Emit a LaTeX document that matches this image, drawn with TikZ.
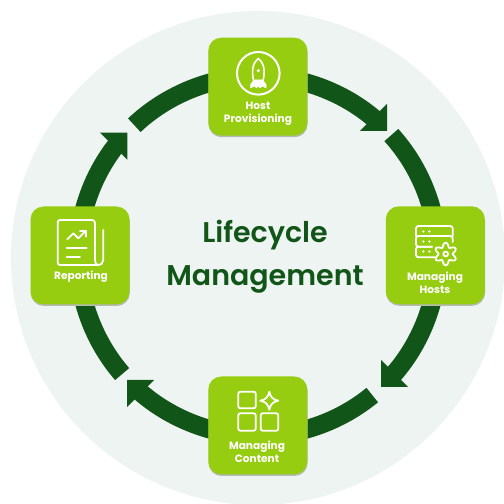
\documentclass[tikz,border=0pt]{standalone}
\usepackage{fontspec}
\usetikzlibrary{calc}
\setmainfont{Poppins}
\newfontface\titlefont{Poppins SemiBold}
\definecolor{bgc}{HTML}{EEF4F1}
\definecolor{ringc}{HTML}{115518}
\definecolor{boxc}{HTML}{96CD11}
\definecolor{shadowc}{HTML}{B4BAB6}
\tikzset{
  seg/.style={draw=ringc,line width=18.5pt,line cap=butt},
  headc/.style={fill=ringc},
  card/.style={draw=none,fill=boxc,rounded corners=13pt,minimum width=99pt,minimum height=98pt,inner sep=0pt},
  cardshadow/.style={draw=none,fill=shadowc,rounded corners=13pt,minimum width=99pt,minimum height=98pt,inner sep=0pt},
  lab/.style={text=white,font=\fontsize{10.6}{13}\selectfont\bfseries,align=center,inner sep=0pt},
  ico/.style={draw=white,line width=1.8pt,line join=round,line cap=round},
  title/.style={text=ringc,font=\fontsize{28.5}{43}\selectfont\titlefont,align=center,inner sep=0pt}
}
\begin{document}
\begin{tikzpicture}[x=1pt,y=1pt]
\useasboundingbox (0,0) rectangle (504,504);
\fill[bgc] (258,246) circle[radius=247];
\coordinate (o) at (258,248);
\foreach \n/\a in {s1/90,e1/49,s2/42.2,e2/0,s3/0,e3/-42,s4/-50.6,e4/-90,s5/-90,e5/-131.5,s6/-139,e6/-180,s7/180,e7/141.5,s8/133.4,e8/90}
  \coordinate (\n) at ($(o)+(\a:180)$);
\draw[seg] (s1) to[out=0,in=139,looseness=.87] (e1);
\draw[seg] (s2) to[out=-47.8,in=90,looseness=.87] (e2);
\draw[seg] (s3) to[out=-90,in=48,looseness=.87] (e3);
\draw[seg] (s4) to[out=-140.6,in=0,looseness=.87] (e4);
\draw[seg] (s5) to[out=180,in=-41.5,looseness=.87] (e5);
\draw[seg] (s6) to[out=131,in=-90,looseness=.87] (e6);
\draw[seg] (s7) to[out=90,in=-128.5,looseness=.87] (e7);
\draw[seg] (s8) to[out=43.4,in=180,looseness=.87] (e8);
\begin{scope}[shift={(0,504)},yscale=-1]
% arrow heads
\fill[headc] (387,131) -- (387,104) -- (360,131) -- cycle;
\fill[headc] (381,387) -- (381,360) -- (408,387) -- cycle;
\fill[headc] (127,380) -- (154,380) -- (127,407) -- cycle;
\fill[headc] (127.3,132.7) -- (100,132.7) -- (127.3,159.6) -- cycle;
% cards
\node[cardshadow] (host s) at (258.1,88.2) {};
\node[cardshadow] (hosts s) at (435.6,256.8) {};
\node[cardshadow] (content s) at (258.1,427) {};
\node[cardshadow] (report s) at (80.3,257) {};
\node[card] (host) at (257.8,86.7) {};
\node[card] (hosts) at (435.3,255.3) {};
\node[card] (content) at (257.8,425.5) {};
\node[card] (report) at (80,255.5) {};
% labels
\node[lab] (hostl) at (258,114.2) {Host\\Provisioning};
\node[lab] (hostsl) at (435,282.8) {Managing\\Hosts};
\node[lab] (contentl) at (257,452) {Managing\\Content};
\node[lab] (reportl) at (81,276.5) {Reporting};
\node[title] (ttl) at (265,256.3) {Lifecycle\\Management};
% rocket icon
\draw[ico,line width=2pt] (258.3,73.3) circle[radius=21.3];
\draw[ico,line width=1.6pt] (258.3,58.5) .. controls (254,62) and (252.6,67) .. (252.6,71) .. controls (252.6,75) and (253,79) .. (254,82)
  -- (262.7,82) .. controls (263.7,79) and (264.1,75) .. (264.1,71) .. controls (264.1,67) and (262.7,62) .. (258.3,58.5) -- cycle;
\fill[white,draw=white,line width=.5pt,line join=round] (254,80) -- (250.5,84.5) -- (250.5,88) -- (254.5,86) -- (256.5,88) -- (258.3,86) -- (260.2,88) -- (262.2,86) -- (266.2,88) -- (266.2,84.5) -- (262.7,80) -- cycle;
\fill[white] (258.3,70.7) circle[radius=1.7];
% server icon
\draw[ico,rounded corners=2.5pt] (435,257.3) -- (416,257.3) -- (416,246.7) -- (432,246.7);
\draw[ico,rounded corners=2.5pt] (432,246.7) -- (416,246.7) -- (416,236) -- (452.7,236) -- (452.7,242);
\draw[ico,rounded corners=2.5pt] (416,236) -- (416,226) -- (452.7,226) -- (452.7,236);
\foreach \y in {231.5,241.5,251.5}{
  \fill[white] (423.3,\y) circle[radius=1.2];
  \fill[white] (429.3,\y) circle[radius=1.2];
}
\draw[ico] plot[domain=0:360,samples=121,smooth] ({445.7+(9.2+2.1*cos(6*(\x-90)))*cos(\x)},{254+(9.2+2.1*cos(6*(\x-90)))*sin(\x)}) -- cycle;
\draw[ico] (445.7,254) circle[radius=2.4];
% content icon
\draw[ico,rounded corners=2pt] (238.3,391.7) rectangle (255.7,408.3);
\draw[ico,rounded corners=2pt] (238.3,413.3) rectangle (255.7,430.7);
\draw[ico,rounded corners=2pt] (260.7,413.3) rectangle (278.3,430.7);
\draw[ico] (269.3,391.7) .. controls (270.3,397) and (273,399.7) .. (278.3,400.7)
  .. controls (273,401.7) and (270.3,404.4) .. (269.3,409.7)
  .. controls (268.3,404.4) and (265.6,401.7) .. (260.3,400.7)
  .. controls (265.6,399.7) and (268.3,397) .. (269.3,391.7) -- cycle;
% report icon
\draw[ico] (97.7,265) -- (60,265) .. controls (58.5,265) and (57.7,264) .. (57.7,262.5) -- (57.7,222.5)
  .. controls (57.7,221) and (58.5,220) .. (60,220) -- (92,220) .. controls (94,220) and (95,221.5) .. (95,223) -- (95,260)
  .. controls (95,262.5) and (96,265) .. (97.7,265) .. controls (101,265) and (103.3,263) .. (103.3,260) -- (103.3,230);
\draw[ico] (67.3,239.3) -- (73.3,233.3) -- (78.3,238.3) -- (86,230.7);
\draw[ico] (80,230.7) -- (86,230.7) -- (86,236.7);
\draw[ico] (66.7,248.3) -- (86.7,248.3);
\draw[ico] (66.7,256.7) -- (80,256.7);
\end{scope}
\end{tikzpicture}
\end{document}
